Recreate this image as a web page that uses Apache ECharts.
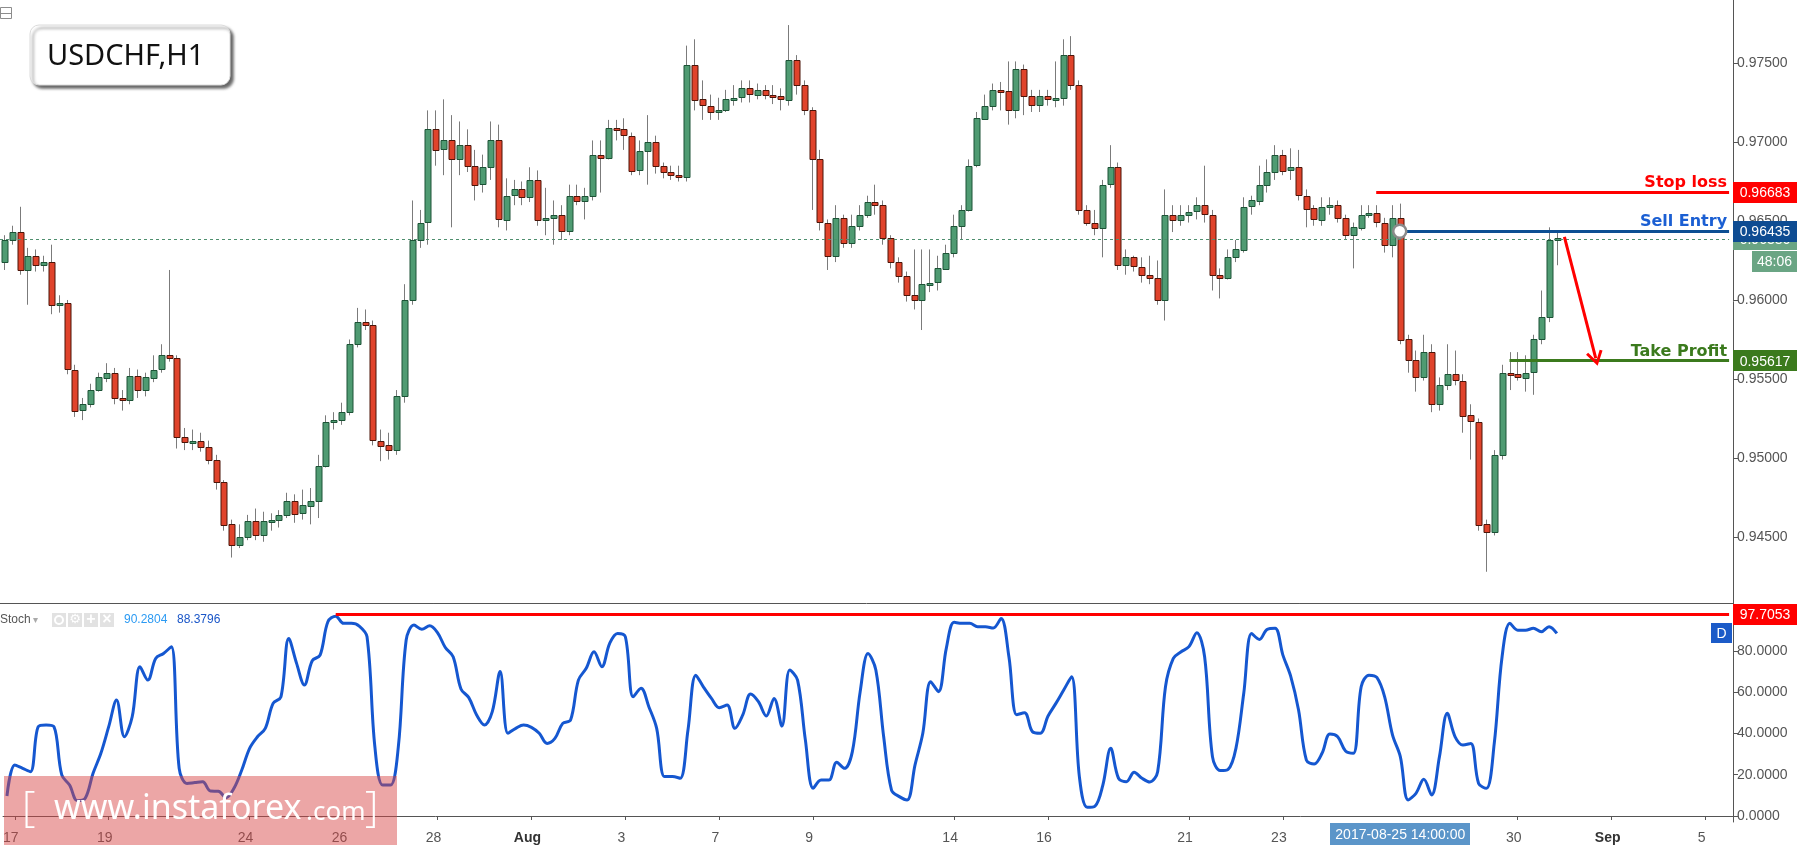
<!DOCTYPE html>
<html>
<head>
<meta charset="utf-8">
<title>USDCHF,H1</title>
<script src="https://cdn.jsdelivr.net/npm/echarts@6/dist/echarts.min.js"></script>
<style>
  html, body { margin: 0; padding: 0; background: #fff; }
  #chart { width: 1801px; height: 845px; }
</style>
</head>
<body>
<div id="chart"></div>
<script>
// trading days shown on the axis (4h bars), first bar is Fri Jul 14 20:00
const firstBar = '2017-07-14 20:00';
const tradingDays = ['07-17','07-18','07-19','07-20','07-21','07-24','07-25','07-26','07-27','07-28',
  '07-31','08-01','08-02','08-03','08-04','08-07','08-08','08-09','08-10','08-11',
  '08-14','08-15','08-16','08-17','08-18','08-21','08-22','08-23','08-24','08-25',
  '08-28','08-29','08-30','08-31','09-01','09-04','09-05'];
const barHours = ['00:00','04:00','08:00','12:00','16:00','20:00'];
const lastDayHours = ['00:00','04:00','08:00','12:00'];

const tickDates = ['07-17','07-19','07-24','07-26','07-28','08-01','08-03','08-07','08-09','08-14','08-16','08-21','08-23','08-30','09-01','09-05'];
const tickTexts = ['17','19','24','26','28','Aug','3','7','9','14','16','21','23','30','Sep','5'];

// [open, close, low, high]
const candles = [
[0.9624,0.9638,0.9619,0.9641],[0.9638,0.9643,0.9635,0.9647],[0.9643,0.9619,0.9616,0.9659],[0.9619,0.9628,0.9597,0.9633],[0.9628,0.9622,0.9618,0.9632],
[0.9622,0.9624,0.9618,0.9628],[0.9624,0.9597,0.9591,0.9635],[0.9597,0.9598,0.9592,0.9603],[0.9598,0.9556,0.9553,0.9600],[0.9556,0.9530,0.9526,0.9559],
[0.9530,0.9534,0.9524,0.9538],[0.9534,0.9543,0.9532,0.9547],[0.9543,0.9551,0.9542,0.9554],[0.9551,0.9554,0.9548,0.9560],[0.9554,0.9538,0.9534,0.9557],
[0.9538,0.9537,0.9530,0.9543],[0.9537,0.9552,0.9534,0.9557],[0.9552,0.9543,0.9538,0.9556],[0.9543,0.9551,0.9539,0.9554],[0.9551,0.9556,0.9548,0.9565],
[0.9556,0.9565,0.9554,0.9572],[0.9565,0.9563,0.9561,0.9619],[0.9563,0.9513,0.9506,0.9565],[0.9513,0.9510,0.9505,0.9519],[0.9510,0.9511,0.9505,0.9518],
[0.9511,0.9507,0.9504,0.9516],[0.9507,0.9499,0.9496,0.9511],[0.9499,0.9485,0.9480,0.9502],[0.9485,0.9458,0.9454,0.9486],[0.9458,0.9445,0.9437,0.9461],
[0.9445,0.9450,0.9443,0.9458],[0.9450,0.9460,0.9448,0.9464],[0.9460,0.9451,0.9448,0.9468],[0.9451,0.9460,0.9447,0.9466],[0.9460,0.9461,0.9454,0.9465],
[0.9461,0.9464,0.9456,0.9467],[0.9464,0.9473,0.9462,0.9478],[0.9473,0.9465,0.9459,0.9477],[0.9465,0.9470,0.9461,0.9480],[0.9470,0.9473,0.9458,0.9481],
[0.9473,0.9495,0.9462,0.9502],[0.9495,0.9523,0.9494,0.9527],[0.9523,0.9524,0.9518,0.9529],[0.9524,0.9529,0.9521,0.9535],[0.9529,0.9572,0.9527,0.9575],
[0.9572,0.9586,0.9570,0.9595],[0.9586,0.9584,0.9581,0.9594],[0.9584,0.9511,0.9508,0.9587],[0.9511,0.9508,0.9498,0.9518],[0.9508,0.9505,0.9499,0.9516],
[0.9505,0.9539,0.9502,0.9543],[0.9539,0.9600,0.9535,0.9610],[0.9600,0.9638,0.9597,0.9663],[0.9638,0.9649,0.9633,0.9657],[0.9649,0.9708,0.9635,0.9720],
[0.9708,0.9695,0.9685,0.9720],[0.9695,0.9701,0.9679,0.9727],[0.9701,0.9689,0.9646,0.9717],[0.9689,0.9698,0.9679,0.9713],[0.9698,0.9685,0.9681,0.9708],
[0.9685,0.9673,0.9663,0.9695],[0.9673,0.9684,0.9668,0.9692],[0.9684,0.9701,0.9676,0.9713],[0.9701,0.9651,0.9646,0.9711],[0.9651,0.9666,0.9644,0.9677],
[0.9666,0.9670,0.9660,0.9676],[0.9670,0.9665,0.9660,0.9675],[0.9665,0.9676,0.9662,0.9684],[0.9676,0.9651,0.9647,0.9682],[0.9651,0.9652,0.9641,0.9671],
[0.9652,0.9654,0.9635,0.9663],[0.9654,0.9644,0.9638,0.9660],[0.9644,0.9666,0.9641,0.9673],[0.9666,0.9663,0.9660,0.9673],[0.9663,0.9666,0.9651,0.9671],
[0.9666,0.9692,0.9663,0.9701],[0.9692,0.9690,0.9668,0.9701],[0.9690,0.9709,0.9689,0.9714],[0.9709,0.9708,0.9701,0.9714],[0.9708,0.9704,0.9695,0.9715],
[0.9704,0.9682,0.9679,0.9706],[0.9682,0.9694,0.9679,0.9701],[0.9694,0.9700,0.9673,0.9717],[0.9700,0.9685,0.9680,0.9704],[0.9685,0.9681,0.9677,0.9687],
[0.9681,0.9679,0.9676,0.9685],[0.9679,0.9678,0.9675,0.9685],[0.9678,0.9749,0.9675,0.9761],[0.9749,0.9727,0.9720,0.9765],[0.9727,0.9723,0.9714,0.9739],
[0.9723,0.9719,0.9714,0.9730],[0.9719,0.9720,0.9714,0.9728],[0.9720,0.9727,0.9719,0.9733],[0.9727,0.9728,0.9723,0.9736],[0.9728,0.9734,0.9725,0.9739],
[0.9734,0.9730,0.9725,0.9739],[0.9730,0.9733,0.9727,0.9737],[0.9733,0.9730,0.9727,0.9736],[0.9730,0.9729,0.9724,0.9736],[0.9729,0.9727,0.9720,0.9734],
[0.9727,0.9752,0.9723,0.9774],[0.9752,0.9736,0.9730,0.9755],[0.9736,0.9720,0.9717,0.9739],[0.9720,0.9689,0.9657,0.9722],[0.9689,0.9649,0.9644,0.9695],
[0.9649,0.9628,0.9619,0.9651],[0.9628,0.9652,0.9624,0.9660],[0.9652,0.9636,0.9633,0.9654],[0.9636,0.9647,0.9633,0.9654],[0.9647,0.9654,0.9644,0.9660],
[0.9654,0.9662,0.9652,0.9666],[0.9662,0.9660,0.9654,0.9673],[0.9660,0.9639,0.9635,0.9663],[0.9639,0.9624,0.9620,0.9641],[0.9624,0.9615,0.9611,0.9627],
[0.9615,0.9603,0.9599,0.9618],[0.9603,0.9600,0.9594,0.9632],[0.9600,0.9610,0.9581,0.9632],[0.9610,0.9611,0.9605,0.9632],[0.9611,0.9620,0.9606,0.9628],
[0.9620,0.9630,0.9619,0.9635],[0.9630,0.9647,0.9627,0.9654],[0.9647,0.9657,0.9638,0.9660],[0.9657,0.9685,0.9656,0.9689],[0.9685,0.9715,0.9684,0.9719],
[0.9715,0.9723,0.9714,0.9730],[0.9723,0.9733,0.9720,0.9737],[0.9733,0.9732,0.9720,0.9738],[0.9732,0.9720,0.9711,0.9751],[0.9720,0.9746,0.9715,0.9751],
[0.9746,0.9729,0.9717,0.9749],[0.9729,0.9723,0.9719,0.9733],[0.9723,0.9729,0.9719,0.9733],[0.9729,0.9727,0.9723,0.9733],[0.9727,0.9728,0.9722,0.9751],
[0.9728,0.9755,0.9723,0.9765],[0.9755,0.9736,0.9733,0.9767],[0.9736,0.9657,0.9654,0.9739],[0.9657,0.9649,0.9647,0.9660],[0.9649,0.9646,0.9641,0.9657],
[0.9646,0.9673,0.9627,0.9676],[0.9673,0.9684,0.9671,0.9698],[0.9684,0.9622,0.9619,0.9687],[0.9622,0.9627,0.9616,0.9632],[0.9627,0.9621,0.9618,0.9628],
[0.9621,0.9616,0.9611,0.9627],[0.9616,0.9614,0.9610,0.9628],[0.9614,0.9600,0.9597,0.9625],[0.9600,0.9654,0.9587,0.9670],[0.9654,0.9651,0.9643,0.9660],
[0.9651,0.9654,0.9647,0.9660],[0.9654,0.9656,0.9649,0.9660],[0.9656,0.9660,0.9651,0.9665],[0.9660,0.9654,0.9649,0.9685],[0.9654,0.9616,0.9606,0.9657],
[0.9616,0.9614,0.9601,0.9620],[0.9614,0.9627,0.9613,0.9632],[0.9627,0.9632,0.9624,0.9638],[0.9632,0.9659,0.9630,0.9665],[0.9659,0.9663,0.9654,0.9666],
[0.9663,0.9673,0.9660,0.9685],[0.9673,0.9681,0.9668,0.9689],[0.9681,0.9692,0.9676,0.9698],[0.9692,0.9682,0.9679,0.9695],[0.9682,0.9684,0.9676,0.9696],
[0.9684,0.9666,0.9663,0.9695],[0.9666,0.9658,0.9646,0.9670],[0.9658,0.9651,0.9647,0.9660],[0.9651,0.9659,0.9647,0.9665],[0.9659,0.9660,0.9654,0.9665],
[0.9660,0.9652,0.9649,0.9663],[0.9652,0.9641,0.9638,0.9654],[0.9641,0.9646,0.9620,0.9649],[0.9646,0.9654,0.9644,0.9660],[0.9654,0.9655,0.9652,0.9660],
[0.9655,0.9649,0.9646,0.9660],[0.9649,0.9635,0.9630,0.9652],[0.9635,0.9652,0.9627,0.9660],[0.9652,0.9575,0.9572,0.9661],[0.9575,0.9562,0.9554,0.9578],
[0.9562,0.9551,0.9542,0.9568],[0.9551,0.9567,0.9549,0.9578],[0.9567,0.9534,0.9529,0.9572],[0.9534,0.9546,0.9530,0.9551],[0.9546,0.9553,0.9543,0.9572],
[0.9553,0.9549,0.9546,0.9568],[0.9549,0.9527,0.9516,0.9553],[0.9527,0.9523,0.9499,0.9534],[0.9523,0.9458,0.9454,0.9525],[0.9458,0.9453,0.9428,0.9461],
[0.9453,0.9502,0.9451,0.9505],[0.9502,0.9554,0.9499,0.9559],[0.9554,0.9553,0.9543,0.9567],[0.9553,0.9551,0.9549,0.9567],[0.9551,0.9554,0.9542,0.9565],
[0.9554,0.9575,0.9540,0.9578],[0.9575,0.9589,0.9572,0.9606],[0.9589,0.9638,0.9586,0.9646],[0.9638,0.9639,0.9622,0.9644]
];

// Stochastic %D, one value per bar
const stochD = [
9.7,24.7,23.1,21.5,43.3,44.1,43.3,19.9,15.0,7.4,
8.6,20.7,30.4,43.3,56.2,38.4,48.1,72.4,65.9,76.4,
78.8,82.1,23.1,15.8,16.2,16.6,12.1,12.0,8.9,13.4,
22.3,32.8,38.4,42.5,54.6,57.8,86.1,74.0,63.5,75.3,
78.0,94.2,96.9,93.4,93.4,92.1,86.9,33.6,15.0,15.0,
33.6,85.3,92.6,90.5,92.2,88.9,81.7,77.2,61.6,57.4,
49.0,44.1,50.6,70.0,40.1,42.5,44.1,43.0,40.1,35.2,
37.6,44.9,46.5,65.9,71.6,79.6,72.4,83.7,88.5,86.9,
57.8,61.9,53.0,42.5,19.1,19.1,18.3,41.7,68.3,62.4,
57.0,52.5,53.8,42.5,49.0,59.1,55.4,48.5,57.0,43.6,
70.8,65.9,36.8,13.4,17.4,17.4,26.0,23.1,31.2,60.3,
78.8,70.8,38.4,12.6,9.4,7.8,24.7,40.1,65.1,60.3,
81.3,93.9,93.4,93.4,91.8,91.8,91.1,95.8,77.2,49.1,
50.1,40.9,40.1,48.5,54.6,61.1,67.5,19.1,4.2,4.8,
15.0,32.8,18.3,16.6,21.2,18.3,16.5,21.5,62.7,76.4,
79.6,82.1,88.9,77.2,28.8,22.0,22.6,32.8,59.5,88.5,
85.6,90.5,91.0,78.0,67.7,51.4,27.1,25.2,30.4,39.7,
38.4,31.5,30.4,62.7,68.3,67.2,57.8,39.3,28.8,7.8,
11.0,17.8,10.2,28.8,49.8,38.4,34.4,35.2,15.8,13.4,
35.2,77.2,93.4,90.1,90.1,91.0,89.3,91.8,88.5
];

const stopLoss = 0.96683;
const sellEntry = 0.96435;
const takeProfit = 0.95617;
const lastPrice = 0.96386;
const stochLevel = 97.7053;
const stochLegend = ['90.2804', '88.3796'];

// categories
const categories = [firstBar];
tradingDays.forEach(function (d, k) {
  const hrs = k === tradingDays.length - 1 ? lastDayHours : barHours;
  hrs.forEach(function (h) { categories.push('2017-' + d + ' ' + h); });
});
const cat = function (day, hour) { return '2017-' + day + ' ' + hour; };

const isTick = function (index, value) {
  return value.slice(11) === '00:00' && tickDates.indexOf(value.slice(5, 10)) >= 0;
};

const FONT = '"Liberation Sans", Arial, sans-serif';
const chevron = 'path://M0,18 L10,0 L20,18 L17,20 L10,7 L3,20 Z';

function renderCandle(params, api) {
  const idx = api.value(0);
  const o = api.value(1), c = api.value(2), l = api.value(3), h = api.value(4);
  const pO = api.coord([idx, o]), pC = api.coord([idx, c]);
  const pL = api.coord([idx, l]), pH = api.coord([idx, h]);
  const w = Math.round(api.size([1, 0])[0] * 0.78);
  const x = Math.round(pO[0]) + 0.5;
  const up = c >= o;
  const top = Math.round(Math.min(pO[1], pC[1])) + 0.5;
  const bh = Math.max(Math.round(Math.abs(pO[1] - pC[1])), 1);
  return {
    type: 'group',
    children: [
      { type: 'line', shape: { x1: x, y1: pH[1], x2: x, y2: pL[1] }, style: { stroke: '#7b7b7b', lineWidth: 1 } },
      { type: 'rect', shape: { x: Math.round(x - w / 2), y: top, width: w, height: bh },
        style: { fill: up ? '#4f9b72' : '#e0432b', stroke: up ? '#1c5336' : '#4b1509', lineWidth: 1 } }
    ]
  };
}

const chart = echarts.init(document.getElementById('chart'));

const option = {
  animation: false,
  backgroundColor: '#fff',
  grid: [
    { left: 0, right: 68, top: 0, height: 603 },
    { left: 0, right: 68, top: 603, height: 219 }
  ],
  xAxis: [{
    type: 'category', gridIndex: 0, data: categories, boundaryGap: true,
    axisLine: { show: true, lineStyle: { color: '#555', width: 1 } },
    axisTick: { show: false }, axisLabel: { show: false }, splitLine: { show: false }
  }, {
    type: 'category', gridIndex: 1, data: categories, boundaryGap: true,
    axisLine: { show: true, lineStyle: { color: '#555', width: 1 } },
    axisTick: { show: true, interval: isTick, alignWithLabel: true, length: 4, lineStyle: { color: '#555' } },
    axisLabel: {
      interval: isTick, margin: 9,
      formatter: function (value) {
        const t = tickTexts[tickDates.indexOf(value.slice(5, 10))];
        return (t === 'Aug' || t === 'Sep') ? '{b|' + t + '}' : '{n|' + t + '}';
      },
      rich: {
        n: { color: '#555', fontSize: 14, fontFamily: FONT, padding: [0, 8, 0, 0] },
        b: { color: '#333', fontSize: 14, fontFamily: FONT, fontWeight: 'bold', padding: [0, 8, 0, 0] }
      }
    },
    splitLine: { show: false }
  }],
  yAxis: [{
    type: 'value', gridIndex: 0, position: 'right', scale: true,
    min: 0.940823, max: 0.978987, minInterval: 0.005, maxInterval: 0.005,
    axisLine: { show: true, lineStyle: { color: '#555' } },
    axisTick: { show: true, length: 5, lineStyle: { color: '#555' } },
    axisLabel: { color: '#555', fontSize: 14, fontFamily: FONT, margin: 4, showMinLabel: false, showMaxLabel: false,
      formatter: function (v) { return v.toFixed(5); } },
    splitLine: { show: false }
  }, {
    type: 'value', gridIndex: 1, position: 'right',
    min: -2.91, max: 103.27, minInterval: 20, maxInterval: 20,
    axisLine: { show: true, lineStyle: { color: '#555' } },
    axisTick: { show: true, length: 5, lineStyle: { color: '#555' } },
    axisLabel: { color: '#555', fontSize: 14, fontFamily: FONT, margin: 4, showMinLabel: false, showMaxLabel: false,
      formatter: function (v) { return v.toFixed(4); } },
    splitLine: { show: false }
  }],
  series: [{
    name: 'USDCHF', type: 'custom', xAxisIndex: 0, yAxisIndex: 0,
    renderItem: renderCandle,
    encode: { x: 0, y: [1, 2, 3, 4] },
    data: candles.map(function (r, i) { return [i].concat(r); }),
    markLine: {
      silent: true, animation: false,
      symbol: ['none', 'none'],
      data: [
        [{ yAxis: lastPrice, x: 0, lineStyle: { color: '#4f8f6f', width: 1, type: [3, 3] }, label: { show: false } },
         { yAxis: lastPrice, xAxis: categories[categories.length - 1] }],
        [{ coord: [cat('08-25', '00:00'), stopLoss], lineStyle: { color: '#ff0000', width: 3, type: 'solid' },
           label: { show: true, position: 'insideEndTop', formatter: 'Stop loss', color: '#ff0000', fontSize: 16, fontWeight: 'bold', fontFamily: 'DejaVu Sans', distance: [2, 1] } },
         { coord: [categories[categories.length - 1], stopLoss] }],
        [{ coord: [cat('08-25', '12:00'), sellEntry], lineStyle: { color: '#0c4f93', width: 3, type: 'solid' },
           label: { show: true, position: 'insideEndTop', formatter: 'Sell Entry', color: '#1b5fd3', fontSize: 16, fontWeight: 'bold', fontFamily: 'DejaVu Sans', distance: [2, 1] } },
         { coord: [categories[categories.length - 1], sellEntry] }],
        [{ coord: [cat('08-29', '20:00'), takeProfit], lineStyle: { color: '#3b7a1d', width: 3, type: 'solid' },
           label: { show: true, position: 'insideEndTop', formatter: 'Take Profit', color: '#3b7a1d', fontSize: 16, fontWeight: 'bold', fontFamily: 'DejaVu Sans', distance: [2, 1] } },
         { coord: [categories[categories.length - 1], takeProfit] }],
        [{ coord: [cat('08-31', '00:00'), 0.9640], symbol: 'none', lineStyle: { color: '#ff0000', width: 3, type: 'solid' }, label: { show: false } },
         { coord: [cat('08-31', '16:00'), 0.9563], symbol: chevron, symbolSize: [17, 15] }]
      ]
    },
    markPoint: {
      silent: true, animation: false,
      data: [{ coord: [cat('08-25', '12:00'), sellEntry], symbol: 'circle', symbolSize: 13,
        itemStyle: { color: '#fff', borderColor: '#8a8a8a', borderWidth: 2.5 }, label: { show: false } }]
    }
  }, {
    name: 'Stoch', type: 'line', xAxisIndex: 1, yAxisIndex: 1,
    data: stochD, showSymbol: false, smooth: 0.35,
    lineStyle: { color: '#1557d0', width: 3 },
    markLine: {
      silent: true, animation: false, symbol: ['none', 'none'],
      lineStyle: { color: '#ff0000', width: 3, type: 'solid' },
      label: { show: false },
      data: [[{ coord: [cat('07-25', '20:00'), stochLevel] }, { coord: [categories[categories.length - 1], stochLevel] }]]
    }
  }]
};

chart.setOption(option);

// decorations: price tags, title box, legend, watermark
const py = function (v) { return chart.convertToPixel({ yAxisIndex: 0 }, v); };
const sy = function (v) { return chart.convertToPixel({ yAxisIndex: 1 }, v); };
const px = function (c) { return chart.convertToPixel({ xAxisIndex: 1 }, c); };

function tag(y, text, color, x, w) {
  x = x || 1733; w = w || 64;
  return {
    type: 'group', zlevel: 1, z: 100,
    children: [
      { type: 'rect', zlevel: 1, shape: { x: x, y: Math.round(y - 10.5), width: w, height: 21 }, style: { fill: color } },
      { type: 'text', zlevel: 1, x: x + w / 2, y: Math.round(y) + 1, style: { text: text, fill: '#fff', font: '14px ' + FONT, align: 'center', verticalAlign: 'middle' } }
    ]
  };
}

const lastY = py(lastPrice);
const crossX = px(cat('08-25', '12:00'));

chart.setOption({
  graphic: { elements: [
    // collapse icon
    { type: 'rect', z: 100, shape: { x: 0.5, y: 7.5, width: 11, height: 11 }, style: { fill: '#fff', stroke: '#8c8c8c', lineWidth: 1 } },
    { type: 'line', z: 100, shape: { x1: 1, y1: 13.5, x2: 11, y2: 13.5 }, style: { stroke: '#8c8c8c', lineWidth: 1 } },
    // symbol box
    { type: 'rect', z: 100, shape: { x: 30, y: 25, width: 200, height: 60, r: 9 },
      style: { fill: '#fff', stroke: '#dcdcdc', lineWidth: 1, shadowBlur: 3, shadowOffsetX: 3, shadowOffsetY: 3, shadowColor: 'rgba(0,0,0,0.6)' } },
    { type: 'text', z: 101, x: 47, y: 57, style: { text: 'USDCHF,H1', fill: '#111', font: '29px "Noto Sans", sans-serif', verticalAlign: 'middle' } },
    // price tags
    tag(py(stopLoss), stopLoss.toFixed(5), '#ff0000'),
    tag(lastY, lastPrice.toFixed(5), '#6aa584'),
    tag(py(sellEntry), sellEntry.toFixed(5), '#0e4c92'),
    tag(lastY + 22, '48:06', '#6aa584', 1752, 45),
    tag(py(takeProfit), takeProfit.toFixed(5), '#3b7a1d'),
    tag(sy(stochLevel), stochLevel.toFixed(4), '#ff0000'),
    // D marker
    { type: 'group', zlevel: 1, z: 100, children: [
      { type: 'rect', zlevel: 1, shape: { x: 1711, y: 623, width: 21, height: 20 }, style: { fill: '#1c5bc8' } },
      { type: 'text', zlevel: 1, x: 1721.5, y: 634, style: { text: 'D', fill: '#fff', font: '14px ' + FONT, align: 'center', verticalAlign: 'middle' } }
    ] },
    // stoch legend
    { type: 'text', z: 100, x: 0, y: 620, style: { text: 'Stoch', fill: '#555', font: '12px ' + FONT, verticalAlign: 'middle' } },
    { type: 'text', z: 100, x: 33, y: 620, style: { text: '\u25BE', fill: '#aaa', font: '10px ' + FONT, verticalAlign: 'middle' } },
    { type: 'rect', z: 100, shape: { x: 52, y: 613, width: 14, height: 14 }, style: { fill: '#e2e2e2' } },
    { type: 'circle', z: 101, shape: { cx: 59, cy: 620, r: 4 }, style: { fill: 'none', stroke: '#fff', lineWidth: 2 } },
    { type: 'rect', z: 100, shape: { x: 68, y: 613, width: 14, height: 14 }, style: { fill: '#e2e2e2' } },
    { type: 'text', z: 101, x: 75, y: 620, style: { text: '\u2699', fill: '#fff', font: 'bold 13px "DejaVu Sans"', align: 'center', verticalAlign: 'middle' } },
    { type: 'rect', z: 100, shape: { x: 84, y: 613, width: 14, height: 14 }, style: { fill: '#e2e2e2' } },
    { type: 'text', z: 101, x: 91, y: 620, style: { text: '+', fill: '#fff', font: 'bold 16px ' + FONT, align: 'center', verticalAlign: 'middle' } },
    { type: 'rect', z: 100, shape: { x: 100, y: 613, width: 14, height: 14 }, style: { fill: '#e2e2e2' } },
    { type: 'text', z: 101, x: 107, y: 620, style: { text: '\u00D7', fill: '#fff', font: 'bold 16px ' + FONT, align: 'center', verticalAlign: 'middle' } },
    { type: 'text', z: 100, x: 124, y: 620, style: { text: stochLegend[0], fill: '#2b9af3', font: '12px ' + FONT, verticalAlign: 'middle' } },
    { type: 'text', z: 100, x: 177, y: 620, style: { text: stochLegend[1], fill: '#1a56c8', font: '12px ' + FONT, verticalAlign: 'middle' } },
    // crosshair date label
    { type: 'group', zlevel: 1, z: 100, children: [
      { type: 'rect', zlevel: 1, shape: { x: Math.round(crossX - 70), y: 823, width: 140, height: 22 }, style: { fill: '#5b95c9' } },
      { type: 'text', zlevel: 1, x: crossX, y: 835, style: { text: '2017-08-25 14:00:00', fill: '#fff', font: '14px ' + FONT, align: 'center', verticalAlign: 'middle' } }
    ] },
    // watermark
    { type: 'rect', zlevel: 1, z: 110, shape: { x: 4, y: 776, width: 393, height: 69 }, style: { fill: 'rgba(215,70,70,0.48)' } },
    { type: 'text', zlevel: 1, z: 111, x: 22, y: 809, style: { text: '[', fill: '#fff', font: '300 42px "Open Sans", sans-serif', verticalAlign: 'middle' } },
    { type: 'text', zlevel: 1, z: 111, x: 54, y: 809, style: { text: 'www.instaforex', fill: '#fff', font: '34px "Noto Sans", sans-serif', verticalAlign: 'middle' } },
    { type: 'text', zlevel: 1, z: 111, x: 306, y: 813, style: { text: '.com', fill: '#fff', font: '26px "Noto Sans", sans-serif', verticalAlign: 'middle' } },
    { type: 'text', zlevel: 1, z: 111, x: 365, y: 809, style: { text: ']', fill: '#fff', font: '300 42px "Open Sans", sans-serif', verticalAlign: 'middle' } }
  ] }
});

window.addEventListener('resize', function () { chart.resize(); });
</script>
</body>
</html>
